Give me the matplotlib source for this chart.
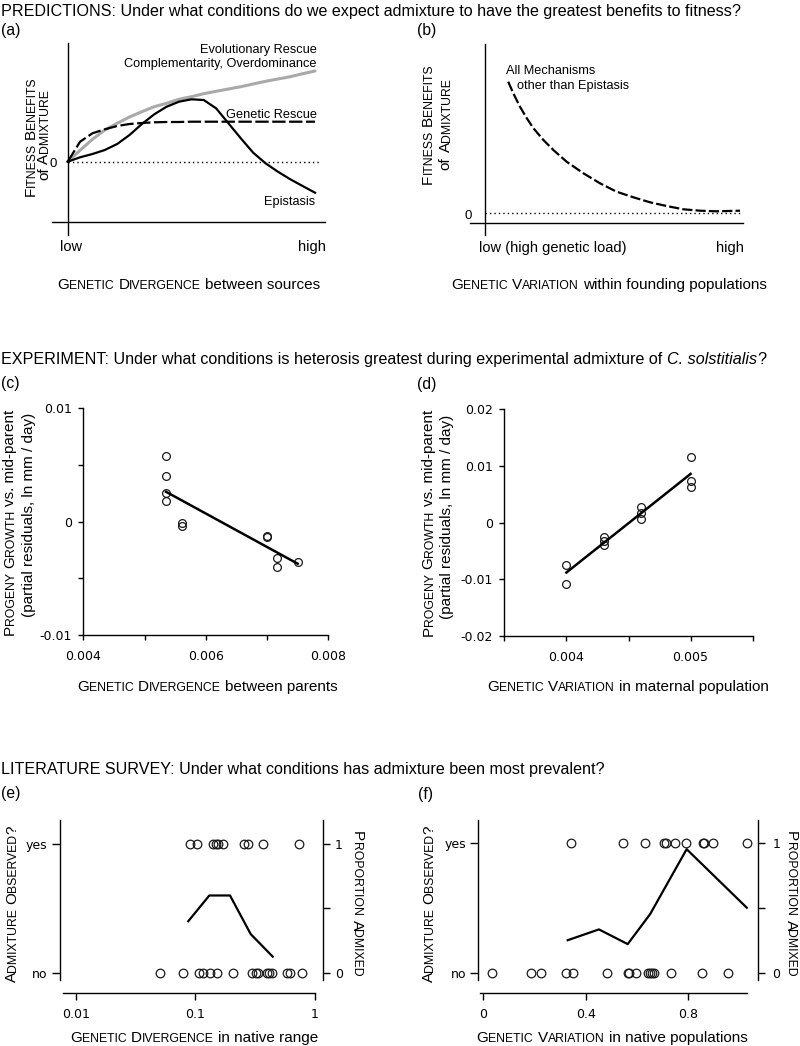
import matplotlib
matplotlib.use('Agg')
import matplotlib.pyplot as plt
from matplotlib.font_manager import FontProperties
from matplotlib.transforms import IdentityTransform
from matplotlib.ticker import NullLocator

# ------------------------------------------------------------------ DATA
# (a) conceptual curves: genetic divergence (0-1) vs fitness benefit (arb. units)
a_div = [0, .05, .1, .15, .2, .25, .3, .35, .4, .45, .5, .55, .6, .65, .7, .75, .8, .85, .9, .95, 1.0]
a_evo = [0, .114, .224, .317, .384, .447, .500, .550, .584, .624, .650, .680, .704, .727, .750,
         .777, .804, .827, .850, .880, .907]
a_rescue = [0, .200, .284, .324, .357, .377, .387, .394, .397, .397, .400, .400, .400, .400, .400,
            .400, .400, .400, .400, .400, .400]
a_epi = [0, .044, .077, .117, .177, .267, .377, .474, .550, .600, .624, .617, .534, .384, .234,
         .090, -.016, -.100, -.176, -.243, -.310]

# (b) conceptual curve: genetic variation (0-1) vs fitness benefit
b_var = [0.091, 0.111, 0.137, 0.164, 0.190, 0.229, 0.268, 0.320, 0.386, 0.451, 0.516, 0.582,
         0.647, 0.712, 0.778, 0.843, 0.908, 1.0]
b_benefit = [1.310, 1.194, 1.060, 0.944, 0.844, 0.727, 0.627, 0.510, 0.394, 0.294, 0.210, 0.154,
             0.104, 0.067, 0.034, 0.020, 0.014, 0.020]

# (c) heterosis vs genetic divergence between parents
c_div = [0.005345, 0.005345, 0.005345, 0.005345, 0.005607, 0.005607, 0.006994, 0.006994,
         0.007158, 0.007158, 0.0075]
c_growth = [0.00574, 0.00401, 0.00254, 0.00178, -0.00016, -0.00037, -0.00130, -0.00134,
            -0.00324, -0.00404, -0.00357]
c_fit_x = [0.00535, 0.0075]
c_fit_y = [0.00262, -0.00372]

# (d) heterosis vs genetic variation in maternal population
d_var = [0.004, 0.004, 0.0043, 0.0043, 0.0043, 0.0046, 0.0046, 0.0046, 0.005, 0.005, 0.005]
d_growth = [-0.00747, -0.01088, -0.00259, -0.00319, -0.0040, 0.00271, 0.00165, 0.0007,
            0.01164, 0.0074, 0.00634]
d_fit_x = [0.004, 0.005]
d_fit_y = [-0.0088, 0.0086]

# (e) literature survey vs genetic divergence (log scale)
e_yes = [0.0904, 0.1028, 0.1415, 0.149, 0.156, 0.170, 0.258, 0.279, 0.368, 0.741]
e_no = [0.0506, 0.0785, 0.1075, 0.1168, 0.1330, 0.1531, 0.2085, 0.2974, 0.3231, 0.3378,
        0.3973, 0.4178, 0.4377, 0.5846, 0.6228, 0.7808]
e_bin_x = [0.0874, 0.1312, 0.1956, 0.2917, 0.4462]
e_prop = [0.40, 0.60, 0.60, 0.30, 0.125]

# (f) literature survey vs genetic variation
f_yes = [0.343, 0.545, 0.632, 0.708, 0.714, 0.749, 0.791, 0.858, 0.864, 0.899, 1.030]
f_no = [0.035, 0.185, 0.226, 0.322, 0.349, 0.485, 0.564, 0.571, 0.597, 0.643, 0.652, 0.658,
        0.669, 0.734, 0.856, 0.958]
f_bin_x = [0.330, 0.452, 0.5645, 0.652, 0.795, 1.030]
f_prop = [0.25, 0.333, 0.22, 0.45, 0.95, 0.50]

c_xticks = [0.004, 0.005, 0.006, 0.007, 0.008]
c_xlabels = ['0.004', '', '0.006', '', '0.008']
c_yticks = [-0.01, -0.005, 0, 0.005, 0.01]
c_ylabels = ['-0.01', '', '0', '', '0.01']
d_xticks = [0.0035, 0.004, 0.0045, 0.005, 0.0055]
d_xlabels = ['', '0.004', '', '0.005', '']
d_yticks = [-0.02, -0.01, 0, 0.01, 0.02]
d_ylabels = ['-0.02', '-0.01', '0', '0.01', '0.02']
e_xticks = [0.01, 0.1, 1]
e_xlabels = ['0.01', '0.1', '1']
f_xticks = [0, 0.4, 0.8]
f_xlabels = ['0', '0.4', '0.8']
obs_ticks = [0, 1]
obs_labels = ['no', 'yes']
prop_ticks = [0, 0.5, 1]
prop_labels = ['0', '', '1']

# ------------------------------------------------------------------ SETUP
plt.rcParams['font.family'] = ['DejaVu Sans']
W, H = 800, 1046
fig = plt.figure(figsize=(W / 100, H / 100), dpi=100)
fig.patch.set_facecolor('white')
R = fig.canvas.get_renderer()
ID = IdentityTransform()
SANS = 'Liberation Sans'
BIG, SMALL = 11, 8.8
HEAD = 11.6


def fprop(size, style='normal'):
    return FontProperties(family=SANS, size=size, style=style)


def adv(s, prop):
    if not s:
        return 0.0
    w1 = R.get_text_width_height_descent('|' + s + '|', prop, ismath=False)[0]
    w2 = R.get_text_width_height_descent('||', prop, ismath=False)[0]
    return w1 - w2


def sc(text, big=BIG, small=SMALL):
    runs = []
    for ch in text:
        if ch.islower():
            t, s = ch.upper(), small
        else:
            t, s = ch, big
        if runs and runs[-1][1] == s:
            runs[-1] = (runs[-1][0] + t, s, 'normal')
        else:
            runs.append((t, s, 'normal'))
    return runs


def nr(text, size=BIG, style='normal'):
    return [(text, size, style)]


def draw_runs(runs, x, y, rot=0, align='center', color='black'):
    props = [fprop(s, st) for _, s, st in runs]
    widths = [adv(t, p) for (t, _, _), p in zip(runs, props)]
    total = sum(widths)
    cap = max(s for _, s, _ in runs) * 100 / 72 * 0.716
    start = {'center': -total / 2, 'left': 0, 'right': -total}[align]
    xd, yd = x, H - y
    if rot == 0:
        ux, uy, bx, by = 1, 0, 0, -cap / 2
    elif rot == 90:
        ux, uy, bx, by = 0, 1, cap / 2, 0
    else:
        ux, uy, bx, by = 0, -1, -cap / 2, 0
    pos = start
    for (t, s, st), p, w in zip(runs, props, widths):
        st_t = t.lstrip()
        lead = adv(t[:len(t) - len(st_t)], p)
        st_t = st_t.rstrip()
        if st_t:
            fig.text(xd + bx + ux * (pos + lead), yd + by + uy * (pos + lead), st_t,
                     fontproperties=p, rotation=rot, rotation_mode='anchor',
                     ha='left', va='baseline', transform=ID, color=color)
        pos += w


def add_ax(left, top, right, bottom):
    return fig.add_axes([left / W, 1 - bottom / H, (right - left) / W, (bottom - top) / H])


def clean(ax, keep=('left', 'bottom')):
    for k, sp in ax.spines.items():
        sp.set_visible(k in keep)
        sp.set_linewidth(1.0)
        sp.set_color('black')
    ax.patch.set_alpha(0)


# ------------------------------------------------------------------ HEADINGS
draw_runs(nr("PREDICTIONS: Under what conditions do we expect admixture to have the greatest "
             "benefits to fitness?", HEAD), 1, 9.8, align='left')
draw_runs(nr("EXPERIMENT: Under what conditions is heterosis greatest during experimental "
             "admixture of ", HEAD) + nr("C. solstitialis", HEAD, 'italic') + nr("?", HEAD),
          1, 358.7, align='left')
draw_runs(nr("LITERATURE SURVEY: Under what conditions has admixture been most prevalent?", HEAD),
          1, 768.3, align='left')
for lab, x, y in [("(a)", 0.5, 30.8), ("(b)", 416.7, 30.8), ("(c)", 0.5, 383.3),
                  ("(d)", 416.7, 384), ("(e)", 0.5, 793.3), ("(f)", 418.3, 794)]:
    fig.text(x, H - y, lab, fontproperties=fprop(BIG + 0.3), ha='left', va='center', transform=ID)

# ------------------------------------------------------------------ (a)
ax0, ax1, ay0, ays = 67.7, 315.0, 161.7, 100.0
axa = add_ax(40, 40, 330, 240)
axa.set_xlim((40 - ax0) / (ax1 - ax0), (330 - ax0) / (ax1 - ax0))
axa.set_ylim((ay0 - 240) / ays, (ay0 - 40) / ays)
clean(axa)
axa.spines['left'].set_position(('data', 0))
axa.spines['left'].set_bounds((ay0 - 235) / ays, (ay0 - 43.3) / ays)
axa.spines['bottom'].set_position(('data', (ay0 - 221.7) / ays))
axa.spines['bottom'].set_bounds((51.7 - ax0) / (ax1 - ax0), (325 - ax0) / (ax1 - ax0))
axa.set_xticks([]); axa.set_yticks([])
axa.hlines(0, 0, (320 - ax0) / (ax1 - ax0), color='black', lw=1.0, linestyles=(0, (1, 2.2)))
axa.plot(a_div, a_evo, color='#a9a9a9', lw=2.2, solid_capstyle='round')
axa.plot(a_div, a_rescue, color='black', lw=1.6, dashes=(6, 1.6))
axa.plot(a_div, a_epi, color='black', lw=1.6)

draw_runs(nr("Evolutionary Rescue", 9.2), 316.7, 48, align='right')
draw_runs(nr("Complementarity, Overdominance", 9.2), 316.7, 62, align='right')
draw_runs(nr("Genetic Rescue", 9.2), 316.7, 113.3, align='right')
draw_runs(nr("Epistasis", 9.2), 315, 200.5, align='right')
draw_runs(nr("0", 9.5), 53.5, 162)
draw_runs(nr("low", 10.5), 70.8, 246)
draw_runs(nr("high", 10.5), 311.7, 246)
draw_runs(sc("Fitness Benefits"), 29.2, 136.7, rot=90)
draw_runs(nr("of ") + sc("Admixture"), 42.8, 135, rot=90)
draw_runs(sc("Genetic Divergence") + nr(" between sources"), 189, 284)

# ------------------------------------------------------------------ (b)
bx0, bx1, by0, bys = 485.0, 740.0, 212.7, 100.0
axb = add_ax(460, 40, 750, 240)
axb.set_xlim((460 - bx0) / (bx1 - bx0), (750 - bx0) / (bx1 - bx0))
axb.set_ylim((by0 - 240) / bys, (by0 - 40) / bys)
clean(axb)
axb.spines['left'].set_position(('data', 0))
axb.spines['left'].set_bounds((by0 - 235) / bys, (by0 - 44.3) / bys)
axb.spines['bottom'].set_position(('data', (by0 - 222.7) / bys))
axb.spines['bottom'].set_bounds((470 - bx0) / (bx1 - bx0), (743.3 - bx0) / (bx1 - bx0))
axb.set_xticks([]); axb.set_yticks([])
axb.hlines(0, 0, 1.0, color='black', lw=1.0, linestyles=(0, (1, 2.2)))
axb.plot(b_var, b_benefit, color='black', lw=1.6, dashes=(4.6, 1.4))

draw_runs(nr("All Mechanisms", 9.2), 506, 69.2, align='left')
draw_runs(nr("other than Epistasis", 9.2), 516.7, 84.7, align='left')
draw_runs(nr("0", 9.5), 468.3, 214)
draw_runs(nr("low (high genetic load)", 10.5), 479, 246.7, align='left')
draw_runs(nr("high", 10.5), 730, 246.7)
draw_runs(sc("Fitness Benefits"), 426.7, 124, rot=90)
draw_runs(nr("of ") + sc("Admixture"), 444.2, 124, rot=90)
draw_runs(sc("Genetic Variation") + nr(" within founding populations"), 609, 284)


# ------------------------------------------------------------------ (c), (d)
def scatter_panel(ax, x, y, fx, fy, xt, xl, yt, yl, xlim, ylim):
    ax.set_xlim(*xlim); ax.set_ylim(*ylim)
    clean(ax)
    ax.plot(x, y, ls='none', marker='o', ms=5.6, mfc='none', mec='#1a1a1a', mew=0.9,
            clip_on=False)
    ax.plot(fx, fy, color='black', lw=1.8)
    ax.set_xticks(xt); ax.set_xticklabels(xl)
    ax.set_yticks(yt); ax.set_yticklabels(yl)
    ax.tick_params(axis='x', length=3.6, width=1, pad=7.0, labelsize=9)
    ax.tick_params(axis='y', length=3.8, width=1, pad=4.6, labelsize=9)


axc = add_ax(83.3, 408, 328.3, 635)
scatter_panel(axc, c_div, c_growth, c_fit_x, c_fit_y, c_xticks, c_xlabels, c_yticks, c_ylabels,
              (0.004, 0.008), (-0.01, 0.01))
draw_runs(sc("Progeny Growth") + nr(" vs. mid-parent"), 8.7, 522.5, rot=90)
draw_runs(nr("(partial residuals, ln mm / day)"), 27.5, 514.5, rot=90)
draw_runs(sc("Genetic Divergence") + nr(" between parents"), 207, 686)

axd = add_ax(504.3, 409.3, 752.7, 636)
scatter_panel(axd, d_var, d_growth, d_fit_x, d_fit_y, d_xticks, d_xlabels, d_yticks, d_ylabels,
              (0.0035, 0.0055), (-0.02, 0.02))
draw_runs(sc("Progeny Growth") + nr(" vs. mid-parent"), 427.2, 523, rot=90)
draw_runs(nr("(partial residuals, ln mm / day)"), 445.3, 516.5, rot=90)
draw_runs(sc("Genetic Variation") + nr(" in maternal population"), 628, 686)


# ------------------------------------------------------------------ (e), (f)
def survey_panel(ax, yes, no, bx, bp, ylim, left_lo, xbounds, lpad, rpad):
    ax.set_ylim(*ylim)
    clean(ax)
    ax.spines['left'].set_bounds(left_lo, ylim[1])
    ax.spines['bottom'].set_bounds(*xbounds)
    ax.plot(yes, [1] * len(yes), ls='none', marker='o', ms=6.2, mfc='none', mec='#1a1a1a',
            mew=0.9, clip_on=False)
    ax.plot(no, [0] * len(no), ls='none', marker='o', ms=6.2, mfc='none', mec='#1a1a1a',
            mew=0.9, clip_on=False)
    ax.set_yticks(obs_ticks); ax.set_yticklabels(obs_labels)
    ax.tick_params(axis='y', length=5.8, width=1, pad=lpad, labelsize=9)
    ax.tick_params(axis='x', length=5.0, width=1, pad=5.8, labelsize=9)
    ax2 = ax.twinx()
    ax2.set_ylim(*ylim)
    clean(ax2, keep=('right',))
    ax2.spines['right'].set_bounds(left_lo, ylim[1])
    ax2.plot(bx, bp, color='black', lw=1.6)
    ax2.set_yticks(prop_ticks); ax2.set_yticklabels(prop_labels)
    ax2.tick_params(axis='y', length=5.3, width=1, pad=rpad, labelsize=9)
    return ax2


axe = add_ax(60, 820, 323.3, 993.3)
axe.set_xscale('log')
ex = lambda px: 10 ** ((px - 76) / 119.25 - 2)
axe.set_xlim(ex(60), ex(323.3))
ax2e = survey_panel(axe, e_yes, e_no, e_bin_x, e_prop,
                    (-(993.3 - 972.7) / 128.7, 1 + (844 - 820) / 128.7),
                    -(980 - 972.7) / 128.7, (ex(63), ex(315)), 3.6, 3.2)
for a in (axe, ax2e):
    a.set_xscale('log')
    a.set_xlim(ex(60), ex(323.3))
axe.set_xticks(e_xticks); axe.set_xticklabels(e_xlabels)
axe.xaxis.set_minor_locator(NullLocator())
ax2e.xaxis.set_minor_locator(NullLocator())
draw_runs(sc("Admixture Observed") + nr("?"), 10.5, 904, rot=90)
draw_runs(sc("Proportion Admixed"), 358.5, 904, rot=-90)
draw_runs(sc("Genetic Divergence") + nr(" in native range"), 194, 1036.5)

axf = add_ax(478.3, 820, 758.3, 993)
fx = lambda px: (px - 483.3) / 255.8
axf.set_xlim(fx(478.3), fx(758.3))
ax2f = survey_panel(axf, f_yes, f_no, f_bin_x, f_prop,
                    (-(993 - 972.7) / 130, 1 + (842.7 - 820) / 130),
                    -(980 - 972.7) / 130, (fx(480), fx(746.7)), 3.0, 5.0)
ax2f.set_xlim(fx(478.3), fx(758.3))
axf.set_xticks(f_xticks); axf.set_xticklabels(f_xlabels)
draw_runs(sc("Admixture Observed") + nr("?"), 427.5, 904, rot=90)
draw_runs(sc("Proportion Admixed"), 792.5, 904, rot=-90)
draw_runs(sc("Genetic Variation") + nr(" in native populations"), 612, 1036.5)

fig.savefig('out.png', dpi=100, facecolor='white')
